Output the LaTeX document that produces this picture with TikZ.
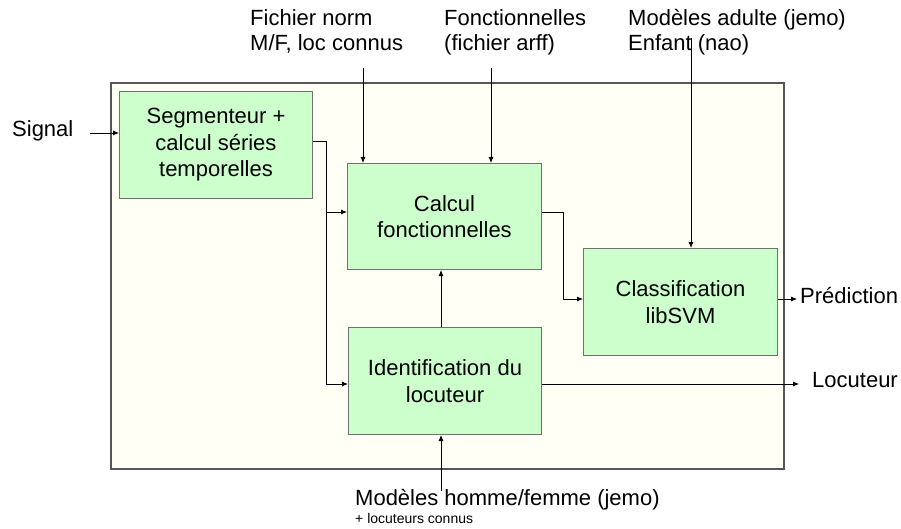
\documentclass[tikz,border=0pt]{standalone}
\usepackage{fontspec}
\setmainfont{Liberation Sans}
\usetikzlibrary{arrows.meta}
\definecolor{boxfill}{HTML}{CCFFCC}
\definecolor{boxline}{HTML}{707070}
\definecolor{panelfill}{HTML}{FFFFF5}
\definecolor{panelline}{HTML}{555555}
\begin{document}
\begin{tikzpicture}[x=1pt,y=-1pt,
  every node/.style={font=\fontsize{22}{26.5}\selectfont, inner sep=0pt},
  procbox/.style={draw=boxline, fill=boxfill, line width=1pt, align=center, anchor=north west},
  lbl/.style={align=left, anchor=north west, font=\fontsize{22}{24.5}\selectfont},
  txt/.style={anchor=base west},
  conn/.style={line width=0.8pt, -{Latex[length=6pt,width=5pt]}}]
\useasboundingbox (0,0) rectangle (901,529);
\fill[white] (0,0) rectangle (901,529);
% panel
\draw[panelline, fill=panelfill, line width=1.3pt] (111,83) rectangle (784,469);
% boxes
\node[procbox, minimum width=193pt, minimum height=107pt] (seg) at (119,91) {Segmenteur +\\calcul séries\\temporelles};
\node[procbox, minimum width=194pt, minimum height=106pt] (calc) at (347,163) {Calcul\\fonctionnelles};
\node[procbox, minimum width=193pt, minimum height=107pt] (ident) at (348,327) {Identification du\\locuteur};
\node[procbox, minimum width=194pt, minimum height=107pt] (clas) at (583,248) {Classification\\libSVM};
% labels
\node[txt] (signal) at (12,137) {Signal};
\node[lbl] (fn) at (250,9.5) {Fichier norm\\M/F, loc connus};
\node[lbl] (fo) at (444,9.5) {Fonctionnelles\\(fichier arff)};
\node[lbl] (ma) at (628,9.5) {Modèles adulte (jemo)\\Enfant (nao)};
\node[txt] (pred) at (800,303) {Prédiction};
\node[txt] (loc) at (812,387) {Locuteur};
\node[txt] (mh) at (355,505) {Modèles homme/femme (jemo)};
\node[txt, font=\fontsize{14}{16}\selectfont] (lc) at (355,523) {+ locuteurs connus};
% connector end points
\coordinate (sigend) at (90,133);
\coordinate (fnend) at (363,68);
\coordinate (foend) at (491,68);
\coordinate (maend) at (691,38);
\coordinate (mhend) at (441,491);
\coordinate (predend) at (797,299);
\coordinate (locend) at (799,384);
% connectors
\draw[conn] (sigend) -- (seg.west |- sigend);
\draw[conn] (fnend) -- (fnend |- calc.north);
\draw[conn] (foend) -- (foend |- calc.north);
\draw[conn] (maend) -- (maend |- clas.north);
\draw[conn] (seg.east |- 0,141) -- (326,141) -- (326,212) -- (calc.west |- 0,212);
\draw[conn] (326,212) -- (326,384) -- (ident.west |- 0,384);
\draw[conn] (ident.north -| 441,0) -- (441,0 |- calc.south);
\draw[conn] (calc.east |- 0,212) -- (563,212) -- (563,299) -- (clas.west |- 0,299);
\draw[conn] (clas.east |- 0,299) -- (predend);
\draw[conn] (ident.east |- 0,384) -- (locend);
\draw[conn] (mhend) -- (mhend |- ident.south);
\end{tikzpicture}
\end{document}
